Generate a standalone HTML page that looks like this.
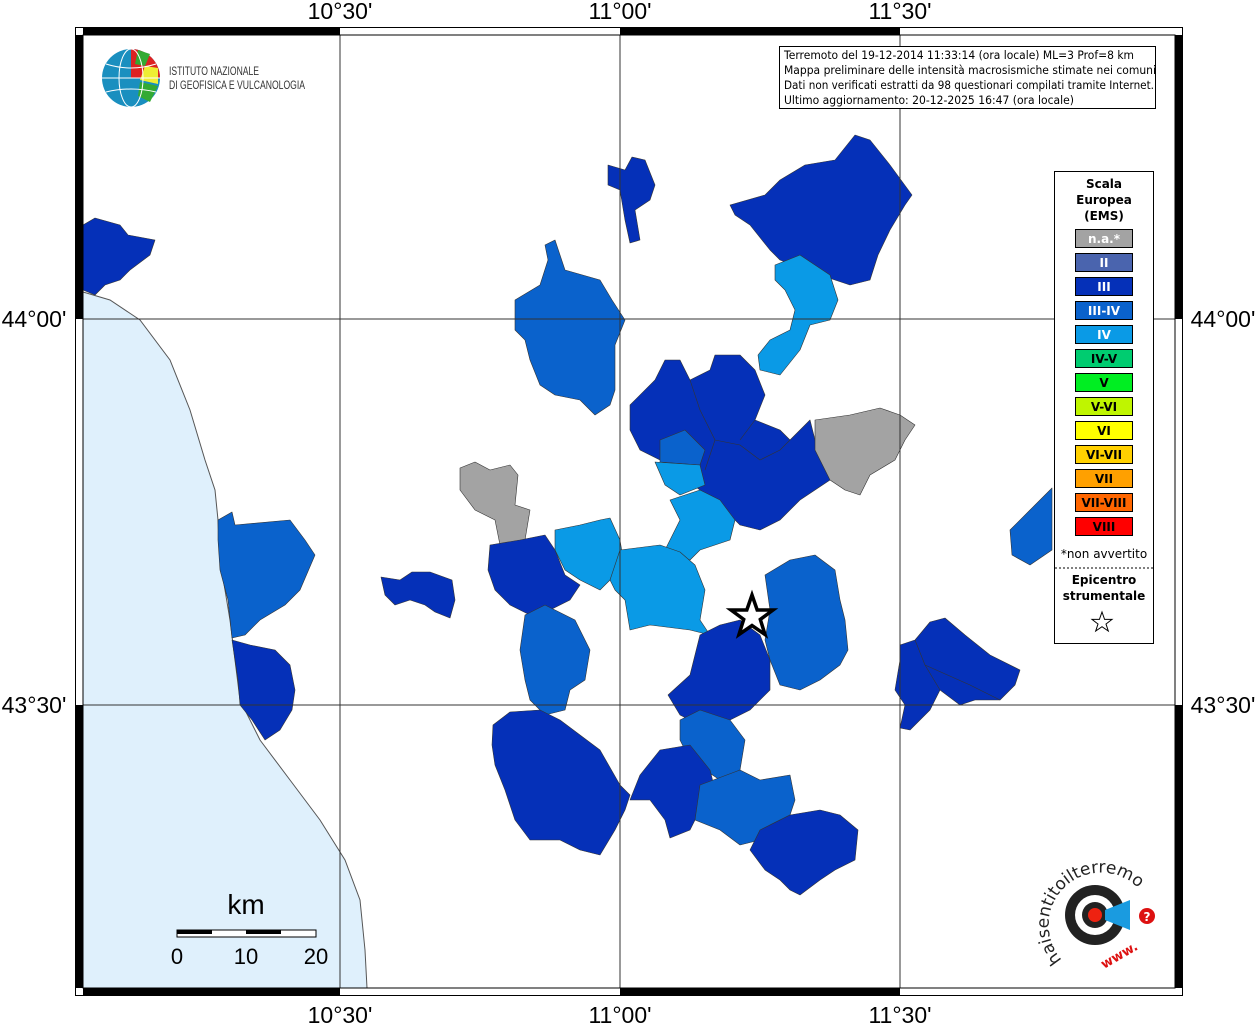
<!DOCTYPE html>
<html><head><meta charset="utf-8"><style>
html,body{margin:0;padding:0;background:#fff}
svg{display:block}
text{font-family:"DejaVu Sans","Liberation Sans",sans-serif}
text.lib{font-family:"Liberation Sans",sans-serif}
</style></head><body>
<svg width="1256" height="1024" viewBox="0 0 1256 1024" xmlns="http://www.w3.org/2000/svg">
<rect x="0" y="0" width="1256" height="1024" fill="#fff"/>
<path d="M83,292 L110,300 L140,320 L170,360 L190,410 L205,460 L215,490 L218,520 L220,560 L230,620 L235,660 L240,700 L260,740 L290,780 L320,820 L345,860 L360,900 L365,950 L367,988 L83,988 Z" fill="#dff0fc" stroke="#555" stroke-width="1"/>
<g stroke="#333" stroke-width="0.6" stroke-linejoin="round">
<path fill="#0530b8" d="M83,225 L95,218 L120,225 L128,235 L155,240 L150,255 L130,270 L120,280 L105,285 L95,295 L83,290Z"/>
<path fill="#0a62cc" d="M218,520 L232,512 L235,525 L290,520 L305,540 L315,555 L300,590 L285,605 L260,620 L245,635 L232,638 L228,600 L220,570 L218,540Z"/>
<path fill="#0530b8" d="M232,640 L250,645 L275,650 L290,665 L295,690 L292,710 L280,730 L265,740 L252,720 L240,705 L238,680 L235,660Z"/>
<path fill="#0530b8" d="M381,577 L400,580 L412,572 L430,572 L452,580 L455,600 L450,618 L435,612 L425,605 L410,600 L395,605 L385,595Z"/>
<path fill="#0a62cc" d="M515,300 L540,285 L548,260 L545,245 L555,240 L565,270 L600,280 L612,300 L625,320 L615,345 L615,390 L610,405 L595,415 L580,400 L555,395 L540,385 L530,360 L525,340 L515,330Z"/>
<path fill="#0530b8" d="M608,165 L625,170 L632,157 L645,160 L655,185 L650,200 L635,210 L640,240 L630,243 L625,220 L620,190 L608,185Z"/>
<path fill="#0530b8" d="M730,205 L765,195 L780,180 L805,165 L835,160 L855,135 L870,140 L890,165 L912,195 L905,205 L890,230 L878,255 L870,280 L850,285 L820,275 L780,260 L770,250 L750,225 L735,215Z"/>
<path fill="#0a9ae6" d="M775,265 L800,255 L830,275 L838,300 L830,320 L810,325 L800,350 L780,375 L760,370 L758,355 L770,340 L790,330 L795,310 L785,290 L775,280Z"/>
<path fill="#0530b8" d="M630,405 L655,380 L665,360 L680,360 L690,380 L710,370 L715,355 L740,355 L755,370 L765,395 L755,420 L780,430 L790,440 L810,420 L815,440 L830,480 L800,500 L780,520 L760,530 L740,525 L720,505 L700,490 L680,475 L660,460 L640,450 L630,430Z"/>
<path fill="none" d="M690,380 L700,410 L715,440 L740,445 L760,460 L780,450 L790,440 M715,440 L705,470 M755,420 L740,440"/>
<path fill="#a3a3a3" d="M815,420 L850,415 L880,408 L900,415 L915,425 L905,440 L895,460 L870,475 L860,495 L845,490 L830,480 L815,450Z"/>
<path fill="#0a62cc" d="M660,440 L685,430 L705,450 L700,465 L660,462Z"/>
<path fill="#0a9ae6" d="M655,462 L700,465 L705,485 L680,495 L665,485Z"/>
<path fill="#0a9ae6" d="M670,500 L700,490 L720,500 L735,520 L730,540 L700,550 L690,560 L665,550 L680,520Z"/>
<path fill="#a3a3a3" d="M460,468 L475,462 L490,470 L510,465 L518,475 L515,505 L530,510 L525,540 L515,548 L500,545 L495,520 L475,510 L460,490Z"/>
<path fill="#0a9ae6" d="M555,530 L580,525 L600,520 L610,518 L620,540 L625,570 L610,580 L600,590 L580,580 L565,570 L555,550Z"/>
<path fill="#0a9ae6" d="M620,550 L660,545 L680,552 L695,565 L705,590 L700,620 L710,635 L690,630 L650,625 L630,630 L625,600 L615,590 L610,580Z"/>
<path fill="#0530b8" d="M490,545 L520,540 L545,535 L555,550 L565,575 L580,585 L570,600 L550,610 L530,615 L510,605 L495,590 L488,570Z"/>
<path fill="#0a62cc" d="M525,615 L545,605 L575,620 L590,650 L585,680 L570,690 L565,710 L545,715 L530,700 L525,680 L520,650Z"/>
<path fill="#0a62cc" d="M765,575 L790,560 L815,555 L835,570 L840,600 L845,620 L848,650 L840,665 L820,680 L800,690 L780,685 L770,660 L765,640 L770,610Z"/>
<path fill="#0530b8" d="M700,635 L720,625 L740,620 L760,635 L770,660 L770,690 L750,710 L730,720 L700,725 L680,715 L668,695 L690,675 L695,655Z"/>
<path fill="#0a62cc" d="M680,720 L700,710 L730,720 L745,740 L740,770 L720,780 L690,760 L680,740Z"/>
<path fill="#0530b8" d="M493,725 L510,712 L540,710 L560,720 L580,735 L600,750 L620,785 L630,795 L625,810 L615,830 L600,855 L580,850 L560,840 L530,840 L515,820 L505,790 L495,765 L492,745Z"/>
<path fill="#0530b8" d="M640,775 L660,750 L690,745 L710,770 L715,790 L700,810 L690,830 L670,838 L665,820 L650,800 L630,800Z"/>
<path fill="#0a62cc" d="M700,785 L740,770 L760,780 L790,775 L795,800 L790,815 L770,825 L760,840 L740,845 L720,830 L695,820Z"/>
<path fill="#0530b8" d="M760,830 L790,815 L820,810 L840,815 L858,830 L855,860 L835,870 L820,880 L800,895 L790,890 L780,880 L765,870 L750,850Z"/>
<path fill="#0530b8" d="M900,645 L915,640 L930,622 L945,618 L965,635 L990,655 L1020,670 L1015,685 L1000,700 L975,700 L960,705 L940,690 L930,710 L910,730 L900,728 L905,705 L895,690 L900,660Z"/>
<path fill="none" d="M915,640 L925,665 L940,690 M925,665 L970,685 L1000,700"/>
<path fill="#0a62cc" d="M1010,530 L1030,510 L1045,495 L1052,488 L1052,550 L1030,565 L1012,555Z"/>
</g>
<g stroke="#333" stroke-width="1">
<line x1="340" y1="35" x2="340" y2="988"/><line x1="620" y1="35" x2="620" y2="988"/><line x1="900" y1="35" x2="900" y2="988"/>
<line x1="83" y1="319" x2="1175" y2="319"/><line x1="83" y1="705" x2="1175" y2="705"/>
</g>
<rect x="75.5" y="27.5" width="1107" height="968" fill="none" stroke="#000" stroke-width="1"/>
<rect x="83" y="35" width="1092" height="953" fill="none" stroke="#000" stroke-width="1"/>
<g fill="#000">
<rect x="83" y="27" width="257" height="8"/><rect x="620" y="27" width="280" height="8"/>
<rect x="83" y="988" width="257" height="8"/><rect x="620" y="988" width="280" height="8"/>
<rect x="75" y="35" width="8" height="284"/><rect x="75" y="705" width="8" height="283"/>
<rect x="1175" y="35" width="8" height="284"/><rect x="1175" y="705" width="8" height="283"/>
</g>
<g font-size="23" fill="#000" text-anchor="middle">
<text class="lib" x="340" y="19">10°30'</text><text class="lib" x="620" y="19">11°00'</text><text class="lib" x="900" y="19">11°30'</text>
<text class="lib" x="340" y="1023">10°30'</text><text class="lib" x="620" y="1023">11°00'</text><text class="lib" x="900" y="1023">11°30'</text>
<text class="lib" x="34" y="327">44°00'</text><text class="lib" x="34" y="713">43°30'</text>
<text class="lib" x="1223" y="327">44°00'</text><text class="lib" x="1223" y="713">43°30'</text>
</g>
<circle cx="131" cy="78" r="29" fill="#1a8fbf"/>
<path d="M131,49 A29,29 0 0 1 160,78 L131,78Z" fill="#d22"/>
<path d="M138,50 L150,54 L145,66 L135,64Z" fill="#3a3"/>
<path d="M145,66 L158,68 L158,84 L140,80Z" fill="#ee3"/>
<path d="M140,82 L158,86 L150,102 L138,96Z" fill="#3a3"/>
<g stroke="#fff" stroke-width="1" fill="none"><ellipse cx="131" cy="78" rx="12" ry="29"/><line x1="102" y1="78" x2="160" y2="78"/><path d="M106,64 Q131,72 156,64 M106,92 Q131,86 156,92"/></g>
<text class="lib" x="169" y="75" font-size="12" fill="#333" textLength="90" lengthAdjust="spacingAndGlyphs">ISTITUTO NAZIONALE</text>
<text class="lib" x="169" y="89" font-size="12" fill="#333" textLength="136" lengthAdjust="spacingAndGlyphs">DI GEOFISICA E VULCANOLOGIA</text>
<rect x="779.5" y="46.5" width="376" height="62" fill="#fff" stroke="#000"/>
<g font-size="11.3" fill="#000">
<text x="784" y="59" textLength="350" lengthAdjust="spacingAndGlyphs">Terremoto del 19-12-2014 11:33:14 (ora locale) ML=3 Prof=8 km</text>
<text x="784" y="74" textLength="372" lengthAdjust="spacingAndGlyphs">Mappa preliminare delle intensità macrosismiche stimate nei comuni</text>
<text x="784" y="89" textLength="370" lengthAdjust="spacingAndGlyphs">Dati non verificati estratti da 98 questionari compilati tramite Internet.</text>
<text x="784" y="104" textLength="290" lengthAdjust="spacingAndGlyphs">Ultimo aggiornamento: 20-12-2025 16:47 (ora locale)</text>
</g>
<rect x="1054.5" y="171.5" width="99" height="472" fill="#fff" stroke="#000"/>
<g font-size="12" font-weight="bold" text-anchor="middle" fill="#000">
<text x="1104" y="188">Scala</text><text x="1104" y="204">Europea</text><text x="1104" y="220">(EMS)</text>
</g>
<g stroke="#000" stroke-width="1">
<rect x="1075.5" y="229.5" width="57" height="18" fill="#a3a3a3"/>
<rect x="1075.5" y="253.5" width="57" height="18" fill="#4a64ae"/>
<rect x="1075.5" y="277.5" width="57" height="18" fill="#0530b8"/>
<rect x="1075.5" y="301.5" width="57" height="18" fill="#0a62cc"/>
<rect x="1075.5" y="325.5" width="57" height="18" fill="#0a9ae6"/>
<rect x="1075.5" y="349.5" width="57" height="18" fill="#00cc70"/>
<rect x="1075.5" y="373.5" width="57" height="18" fill="#00ee22"/>
<rect x="1075.5" y="397.5" width="57" height="18" fill="#bff500"/>
<rect x="1075.5" y="421.5" width="57" height="18" fill="#ffff00"/>
<rect x="1075.5" y="445.5" width="57" height="18" fill="#ffd000"/>
<rect x="1075.5" y="469.5" width="57" height="18" fill="#ffa000"/>
<rect x="1075.5" y="493.5" width="57" height="18" fill="#ff6600"/>
<rect x="1075.5" y="517.5" width="57" height="18" fill="#ff0000"/>
</g>
<g font-size="12" font-weight="bold" text-anchor="middle">
<text x="1104" y="243" fill="#fff">n.a.*</text>
<text x="1104" y="267" fill="#fff">II</text>
<text x="1104" y="291" fill="#fff">III</text>
<text x="1104" y="315" fill="#fff">III-IV</text>
<text x="1104" y="339" fill="#fff">IV</text>
<text x="1104" y="363" fill="#000">IV-V</text>
<text x="1104" y="387" fill="#000">V</text>
<text x="1104" y="411" fill="#000">V-VI</text>
<text x="1104" y="435" fill="#000">VI</text>
<text x="1104" y="459" fill="#000">VI-VII</text>
<text x="1104" y="483" fill="#000">VII</text>
<text x="1104" y="507" fill="#000">VII-VIII</text>
<text x="1104" y="531" fill="#000">VIII</text>
</g>
<text x="1104" y="558" font-size="12" text-anchor="middle">*non avvertito</text>
<line x1="1055" y1="568" x2="1153" y2="568" stroke="#000" stroke-dasharray="2,2"/>
<g font-size="12" font-weight="bold" text-anchor="middle"><text x="1104" y="584">Epicentro</text><text x="1104" y="600">strumentale</text></g>
<path d="M1102,612 L1104.6,619.4 L1112,619.4 L1106,624 L1108.3,631 L1102,626.7 L1095.7,631 L1098,624 L1092,619.4 L1099.4,619.4Z" fill="none" stroke="#000" stroke-width="1"/>
<path d="M752,595 L757.2,610 L773,610 L760.3,619.4 L765,634.5 L752,625.5 L739,634.5 L743.7,619.4 L731,610 L746.8,610Z" fill="#fff" stroke="#000" stroke-width="3.5"/>
<text class="lib" x="246" y="914" font-size="28" text-anchor="middle">km</text>
<rect x="177" y="930" width="139" height="7" fill="#fff" stroke="#000"/>
<rect x="177" y="930" width="35" height="4" fill="#000"/>
<rect x="246" y="930" width="35" height="4" fill="#000"/>
<g font-size="22" text-anchor="middle"><text class="lib" x="177" y="964">0</text><text class="lib" x="246" y="964">10</text><text class="lib" x="316" y="964">20</text></g>
<circle cx="1095" cy="915" r="30" fill="#222"/>
<circle cx="1095" cy="915" r="20" fill="#fff"/>
<circle cx="1095" cy="915" r="13" fill="#222"/>
<circle cx="1095" cy="915" r="7" fill="#e21"/>
<path d="M1105,910 L1130,900 L1130,930 L1105,920Z" fill="#1a9be0"/>
<circle cx="1147" cy="916" r="8" fill="#d11"/>
<text x="1147" y="921" font-size="12" fill="#fff" text-anchor="middle" font-weight="bold">?</text>
<path id="arc" d="M1062,960 A50,50 0 1 1 1140,890" fill="none"/>
<text font-size="17" fill="#222"><textPath href="#arc">haisentitoilterremoto.it</textPath></text>
<text x="1100" y="962" font-size="13" fill="#d11" font-weight="bold" transform="rotate(-30 1115 958)">www.</text>
</svg>
</body></html>
